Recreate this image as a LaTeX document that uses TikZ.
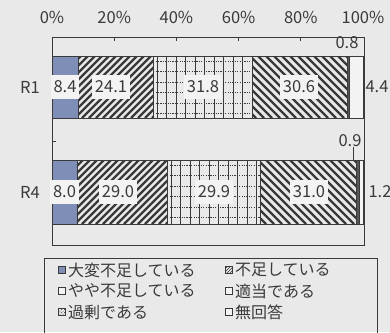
\documentclass[tikz,border=0pt]{standalone}
\usepackage{fontspec}
\setmainfont{Noto Sans CJK JP}
\usetikzlibrary{patterns}
\definecolor{bg}{HTML}{E9E9E9}
\definecolor{lbg}{HTML}{F3F3F3}
\definecolor{bluebar}{HTML}{7F8EB6}
\definecolor{ink}{HTML}{3A3A3A}
\newcommand\hatchF[4]{\begin{scope}\clip (#1,#3) rectangle (#2,#4);
  \foreach \i in {-30,-23,...,380}{\draw[hatchline] (\i,#4) -- ({\i+(#4-#3)},#3);}\end{scope}}
\newcommand\hatchB[4]{\begin{scope}\clip (#1,#3) rectangle (#2,#4);
  \foreach \i in {-30,-22,...,380}{\draw[hatchline] (\i,#3) -- ({\i+(#4-#3)},#4);}\end{scope}}
\newcommand\gridseg[4]{\begin{scope}\clip (#1,#3) rectangle (#2,#4);
  \foreach \i in {0,...,11}{\draw[gridv] ({#1+4+\i*9.5},#3) -- ({#1+4+\i*9.5},#4);}
  \foreach \j in {0,...,6}{\draw[gridh] (#1,{#3+5+\j*10.5}) -- (#2,{#3+5+\j*10.5});}\end{scope}}
\begin{document}
\begin{tikzpicture}[x=1pt,y=-1pt,
  frame/.style={draw=ink,line width=0.9pt},
  segbox/.style={draw=ink,line width=0.8pt},
  hatchline/.style={draw=ink,line width=2.3pt},
  gridv/.style={draw=ink,line width=0.9pt},
  gridh/.style={draw=ink,line width=0.9pt,dash pattern=on 1.2pt off 1.2pt},
  num/.style={font=\fontsize{16.5}{17}\selectfont,text=ink,inner sep=0pt},
  lbl/.style={num,fill=lbg,inner xsep=3pt,inner ysep=6pt},
  leg/.style={font=\fontsize{16}{17}\selectfont,text=ink,anchor=west,inner sep=0pt},
  mk/.style={draw=ink,line width=0.7pt,minimum size=7pt,inner sep=0pt,fill=lbg}]

\useasboundingbox (0,0) rectangle (390,332);
\fill[bg] (0,0) rectangle (390,332);

% axis labels
\foreach \p/\x in {0/52,20/114.2,40/176.4,60/238.6,80/300.8,100/363}{
  \node[num] (ax\p) at (\x,17) {\p\%};}

% frame and ticks
\draw[frame] (52,37) rectangle (364,245);
\foreach \x in {114.2,176.4,238.6,300.8}{\draw[frame] (\x,37) -- (\x,41);}
\draw[frame] (52,141) -- (56,141);

% ---- R1 bar (y 56..118)
\fill[bluebar] (52,56) rectangle (78.1,118);
\hatchF{78.1}{153.1}{56}{118}
\gridseg{153.1}{252}{56}{118}
\hatchB{252}{347.1}{56}{118}
\fill[ink!85] (347.1,56) rectangle (349.6,118);
\fill[lbg] (349.6,56) rectangle (363.3,118);
\foreach \a/\b in {52/78.1,78.1/153.1,153.1/252,252/347.1,347.1/349.6,349.6/363.3}{
  \draw[segbox] (\a,56) rectangle (\b,118);}

% ---- R4 bar (y 160..224)
\fill[bluebar] (52,160) rectangle (76.9,224);
\hatchF{76.9}{167.1}{160}{224}
\gridseg{167.1}{260.1}{160}{224}
\hatchB{260.1}{356.5}{160}{224}
\fill[ink!85] (356.5,160) rectangle (359.3,224);
\fill[lbg] (359.3,160) rectangle (363.3,224);
\foreach \a/\b in {52/76.9,76.9/167.1,167.1/260.1,260.1/356.5,356.5/359.3,359.3/363.3}{
  \draw[segbox] (\a,160) rectangle (\b,224);}

% labels R1
\node[num] (r1) at (30,87) {R1};
\node[lbl] (v11) at (65,87) {8.4};
\node[lbl] (v12) at (111,87) {24.1};
\node[lbl] (v13) at (203,87) {31.8};
\node[lbl] (v14) at (299,87) {30.6};
\node[num] (v15) at (347,43) {0.8};
\node[num] (v16) at (377,87) {4.4};

% labels R4
\node[num] (r4) at (30,192) {R4};
\node[lbl] (v41) at (64.5,192) {8.0};
\node[lbl] (v42) at (118,192) {29.0};
\node[lbl] (v43) at (214,192) {29.9};
\node[lbl] (v44) at (309,192) {31.0};
\node[num] (v45) at (350,141) {0.9};
\node[num] (v46) at (380,192) {1.2};
\coordinate (p45) at (353,160);
\draw[ink,line width=0.6pt] (v45.south -| p45) -- (p45);

% legend
\draw[frame] (44,258) rectangle (377,345);
\node[mk,fill=bluebar] (m1) at (62,270) {};
\node[leg] (t1) at (68,270) {大変不足している};
\node[mk,pattern=north east lines,pattern color=ink] (m2) at (229,270) {};
\node[leg] (t2) at (235,270) {不足している};
\node[mk] (m3) at (62,291) {};
\node[leg] (t3) at (68,291) {やや不足している};
\node[mk] (m4) at (229,291) {};
\node[leg] (t4) at (235,291) {適当である};
\node[mk,pattern=crosshatch dots,pattern color=ink] (m5) at (62,312) {};
\node[leg] (t5) at (68,312) {過剰である};
\node[mk] (m6) at (229,312) {};
\node[leg] (t6) at (235,312) {無回答};
\end{tikzpicture}
\end{document}
